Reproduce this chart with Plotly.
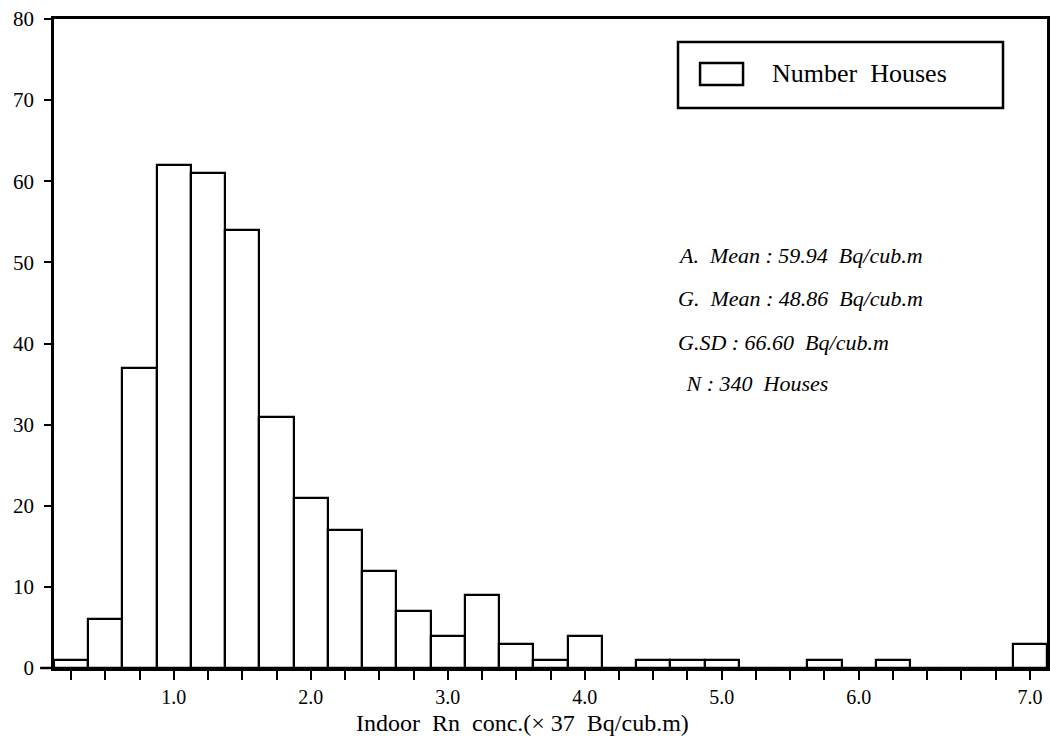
import plotly.graph_objects as go

# Bin centres (x 37 Bq/cub.m), bin width 0.25
bin_centers = [0.25, 0.50, 0.75, 1.00, 1.25, 1.50, 1.75, 2.00, 2.25, 2.50,
               2.75, 3.00, 3.25, 3.50, 3.75, 4.00, 4.25, 4.50, 4.75, 5.00,
               5.25, 5.50, 5.75, 6.00, 6.25, 6.50, 6.75, 7.00, 7.25]
number_houses = [1, 6, 37, 62, 61, 54, 31, 21, 17, 12,
                 7, 4, 9, 3, 1, 4, 0, 1, 1, 1,
                 0, 0, 1, 0, 1, 0, 0, 0, 3]
tick_labels = {1.00: "1.0", 2.00: "2.0", 3.00: "3.0", 4.00: "4.0",
               5.00: "5.0", 6.00: "6.0", 7.25: "7.0"}
stats_lines = ["A.  Mean : 59.94  Bq/cub.m",
               "G.  Mean : 48.86  Bq/cub.m",
               "G.SD : 66.60  Bq/cub.m",
               " N : 340  Houses"]
legend_label = "Number  Houses"
x_title = "Indoor  Rn  conc.(× 37  Bq/cub.m)"

SERIF = "Liberation Serif, Times New Roman, serif"

fig = go.Figure()
fig.add_trace(go.Bar(
    x=bin_centers, y=number_houses, width=0.25,
    name=legend_label,
    marker=dict(color="white", line=dict(color="black", width=2.2)),
    showlegend=False,
))

ticktext = [tick_labels.get(c, "") for c in bin_centers]

fig.update_layout(
    width=1050, height=745,
    margin=dict(l=54, r=3, t=19, b=77, autoexpand=False),
    paper_bgcolor="white", plot_bgcolor="white",
    bargap=0,
    font=dict(family=SERIF, color="black", size=21),
    xaxis=dict(
        range=[0.125, 7.375],
        tickmode="array", tickvals=bin_centers, ticktext=ticktext,
        ticks="outside", ticklen=9, tickwidth=2, tickcolor="black",
        showline=True, linecolor="black", linewidth=2.5, mirror=True,
        showgrid=False, zeroline=False,
        tickfont=dict(family=SERIF, size=20, color="black"),
    ),
    yaxis=dict(
        range=[0, 80], dtick=10, tick0=0,
        ticks="outside", ticklen=7, tickwidth=2, tickcolor="black",
        ticklabelstandoff=6,
        showline=True, linecolor="black", linewidth=2.5, mirror=True,
        showgrid=False, zeroline=False,
        tickfont=dict(family=SERIF, size=21, color="black"),
    ),
)

# x axis title (slightly left of centre, as in the original)
fig.add_annotation(xref="paper", yref="paper", x=0.4713, y=-0.0845,
                   xanchor="center", yanchor="middle", showarrow=False,
                   text=x_title, font=dict(family=SERIF, size=24, color="black"))

# small extension of the x axis line to the left of the y axis
fig.add_shape(type="line", xref="paper", yref="paper",
              x0=-0.014, x1=0, y0=0, y1=0,
              line=dict(color="black", width=2.5))

# Legend box drawn as shapes
fig.add_shape(type="rect", xref="paper", yref="paper",
              x0=0.6284, x1=0.9557, y0=0.8629, y1=0.9646,
              line=dict(color="black", width=2.5), fillcolor="white", layer="above")
fig.add_shape(type="rect", xref="paper", yref="paper",
              x0=0.6506, x1=0.6939, y0=0.8983, y1=0.9322,
              line=dict(color="black", width=2.5), fillcolor="white", layer="above")
fig.add_annotation(xref="paper", yref="paper", x=0.7210, y=0.9153,
                   xanchor="left", yanchor="middle", showarrow=False,
                   text=legend_label, font=dict(family=SERIF, size=26, color="black"))

# Statistics text
stat_pos = [(0.6264, 0.635), (0.6264, 0.570), (0.6264, 0.502), (0.629, 0.4376)]
for txt, (px, py) in zip(stats_lines, stat_pos):
    fig.add_annotation(xref="paper", yref="paper", x=px, y=py,
                       xanchor="left", yanchor="middle", showarrow=False,
                       text="<i>" + txt + "</i>",
                       font=dict(family=SERIF, size=22, color="black"))

fig.write_html("out.html", config={"displayModeBar": False},
               post_script="document.body.style.margin='0';")
